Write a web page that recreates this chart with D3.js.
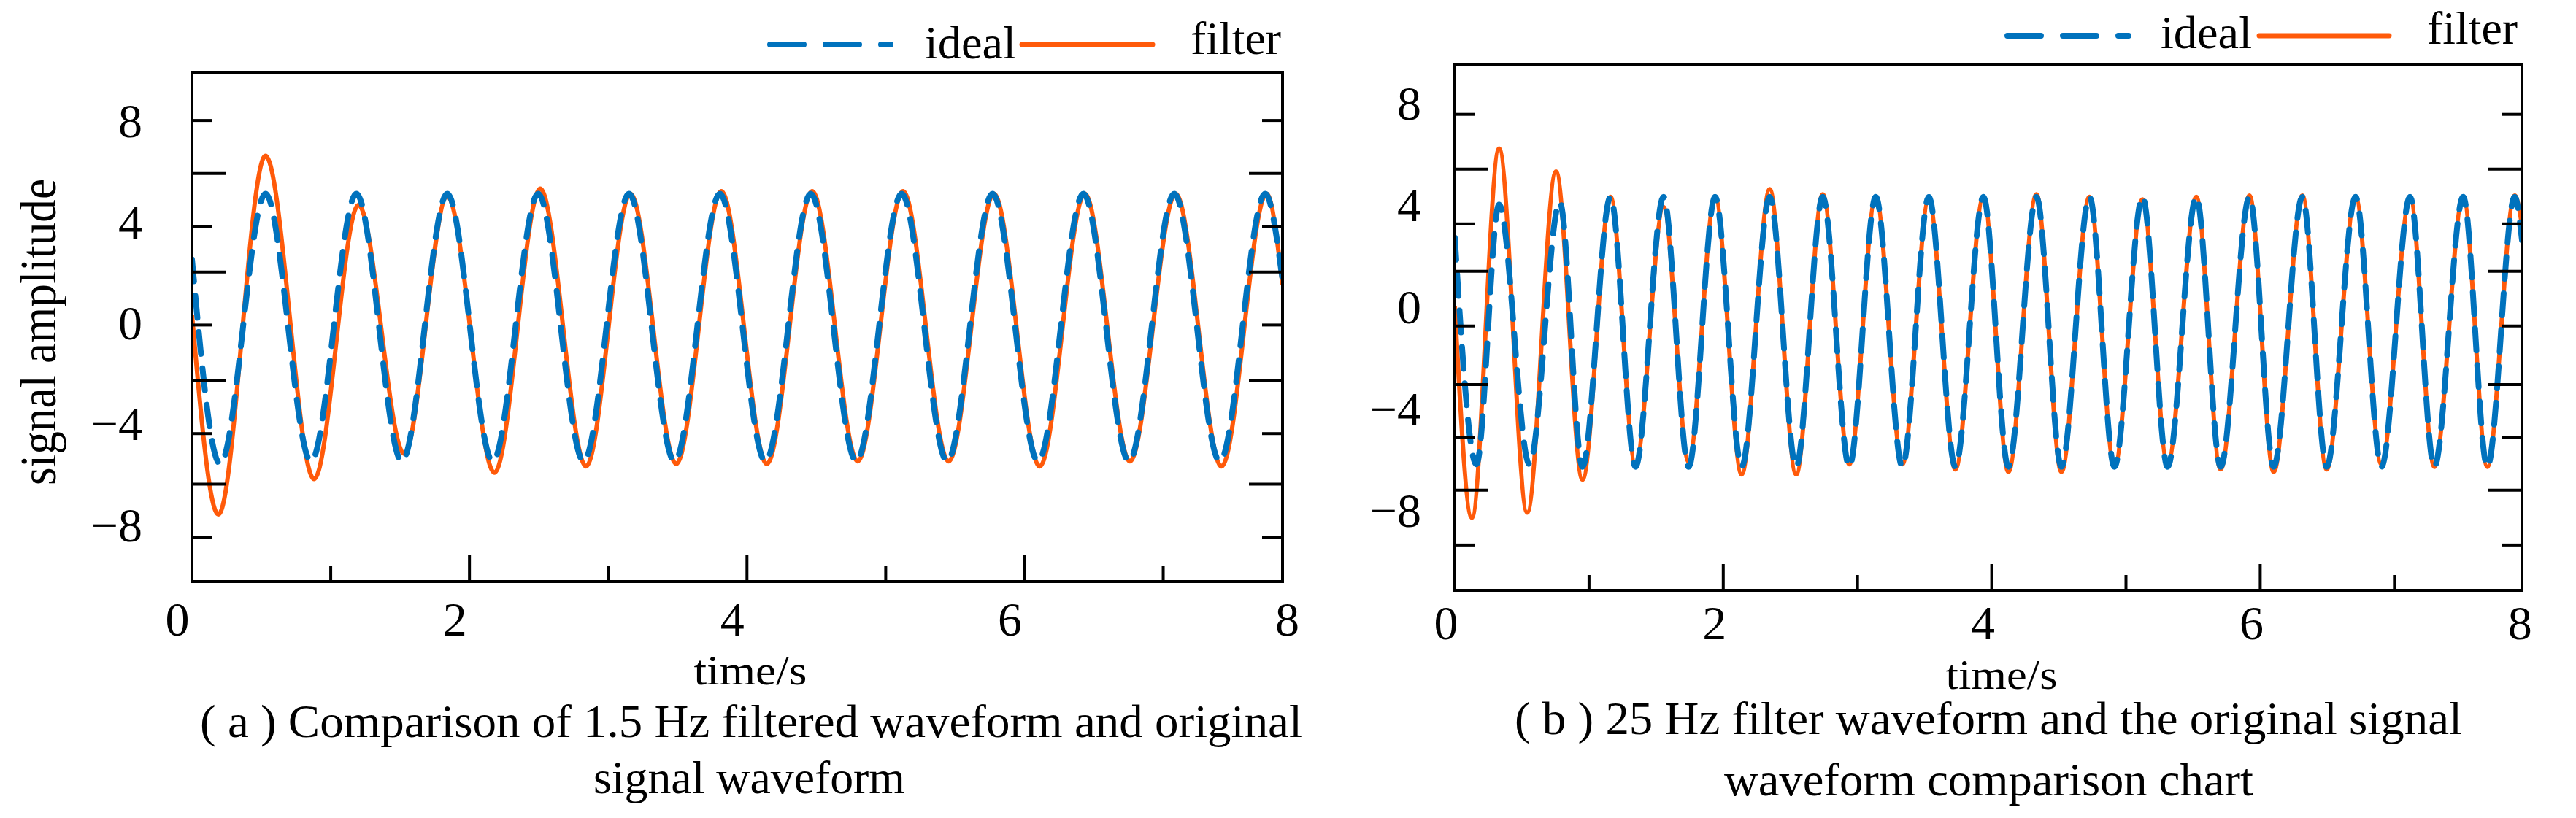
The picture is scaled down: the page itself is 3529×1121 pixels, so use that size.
<!DOCTYPE html>
<html><head><meta charset="utf-8">
<script src="https://cdn.jsdelivr.net/npm/d3@7"></script>
<style>body{margin:0;background:#fff}svg{display:block}text{font-family:"Liberation Serif","DejaVu Serif",serif;fill:#000}</style>
</head><body>
<svg id="c" width="3529" height="1121"></svg>
<script>
// ---- data ----
const xTickLabels = ["0","2","4","6","8"];
const xTickLabelValues = [0,2,4,6,8];
const yTickLabels = ["8","4","0","\u22124","\u22128"];
const yTickLabelValues = [8,4,0,-4,-8];
const xTickMarks = [1,2,3,4,5,6,7];
const seriesNames = ["ideal","filter"];

// panel (a) 1.5 Hz
const aIdealT = [0,0.203,0.530,0.858,1.185,1.513,1.840,2.168,2.495,2.823,3.150,3.478,3.805,4.133,4.460,4.788,5.115,5.443,5.770,6.098,6.425,6.753,7.080,7.408,7.735,7.86];
const aIdealV = [2.5,-5.6,5.1,-5.5,5.1,-5.5,5.1,-5.5,5.1,-5.5,5.1,-5.5,5.1,-5.5,5.1,-5.5,5.1,-5.5,5.1,-5.5,5.1,-5.5,5.1,-5.5,5.1,1.7];
const aFilterT = [0,0.19,0.53,0.88,1.20,1.53,1.84,2.18,2.51,2.84,3.16,3.49,3.815,4.143,4.47,4.798,5.125,5.453,5.78,6.11,6.435,6.76,7.09,7.42,7.745,7.86];
const aFilterV = [0.3,-7.6,6.6,-6.2,4.65,-5.2,5.0,-5.95,5.3,-5.7,5.1,-5.6,5.2,-5.6,5.2,-5.5,5.2,-5.5,5.1,-5.7,5.1,-5.5,5.1,-5.7,5.1,1.5];
const aYTickMarks = [8,5.9,3.8,2.0,-0.1,-2.3,-4.4,-6.4,-8.5];
const aYTickLong  = [0,1,0,1,0,1,0,1,0];

// panel (b) 25 Hz
const bFilterT = [0,0.127,0.330,0.539,0.754,0.951,1.160,1.346,1.555,1.742,1.939,2.137,2.346,2.543,2.741,2.939,3.136,3.334,3.531,3.729,3.938,4.124,4.333,4.519,4.728,4.914,5.123,5.310,5.524,5.705,5.92,6.10,6.314,6.495,6.71,6.903,7.116,7.297,7.512,7.692,7.896,7.95];
const bFilterV = [0,-8.3,6.2,-8.1,5.3,-6.8,4.3,-6.2,3.9,-6.1,4.3,-6.6,4.6,-6.6,4.4,-6.2,4.3,-6.2,4.2,-6.4,4.3,-6.5,4.4,-6.5,4.3,-6.3,4.2,-6.2,4.3,-6.4,4.35,-6.5,4.35,-6.4,4.3,-6.2,4.25,-6.3,4.3,-6.3,4.35,3.2];
const bIdealT = [0,0.161,0.330,0.556,0.782,0.951,1.160,1.346,1.555,1.742,1.939,2.137,2.346,2.543,2.741,2.939,3.136,3.334,3.531,3.729,3.938,4.124,4.333,4.519,4.728,4.914,5.123,5.310,5.524,5.705,5.92,6.10,6.314,6.495,6.71,6.903,7.116,7.297,7.512,7.692,7.896,7.95];
const bIdealV = [2.7,-6.2,4.0,-6.2,4.1,-6.3,4.3,-6.3,4.3,-6.3,4.3,-6.3,4.3,-6.3,4.3,-6.3,4.3,-6.3,4.3,-6.3,4.3,-6.3,4.3,-6.3,4.3,-6.3,4.3,-6.3,4.3,-6.3,4.3,-6.3,4.3,-6.3,4.3,-6.3,4.3,-6.3,4.3,-6.3,4.3,2.6];
const bYTickMarks = [7.54,5.39,3.24,1.38,-0.77,-3.07,-5.16,-7.22,-9.37];
const bYTickLong  = [0,1,0,1,0,1,0,1,0];

const BLUE="#0072BD", ORANGE="#FF5A0A";
const svg=d3.select("#c");

function panel(o){
  const g=svg.append("g");
  const x=d3.scaleLinear().domain([0,o.xmax]).range([o.L,o.R]);
  const y=d3.scaleLinear().domain([o.ymin,o.ymax]).range([o.B,o.T]);
  const id="clip"+o.name;
  svg.append("clipPath").attr("id",id).append("rect").attr("x",o.L).attr("y",o.T).attr("width",o.R-o.L).attr("height",o.B-o.T);
  const line=d3.line().x(d=>x(d[0])).y(d=>y(d[1])).curve(d3.curveMonotoneX);
  const zip=(t,v)=>t.map((tt,i)=>[tt,v[i]]);
  const lg=g.append("g").attr("clip-path","url(#"+id+")");
  lg.append("path").attr("d",line(zip(o.fT,o.fV))).attr("fill","none").attr("stroke",ORANGE).attr("stroke-width",6);
  lg.append("path").attr("d",line(zip(o.iT,o.iV))).attr("fill","none").attr("stroke",BLUE).attr("stroke-width",8)
    .attr("stroke-dasharray","30 20").attr("stroke-linecap","round");
  g.append("rect").attr("x",o.L).attr("y",o.T).attr("width",o.R-o.L).attr("height",o.B-o.T).attr("fill","none").attr("stroke","#000").attr("stroke-width",4);
  o.yTicks.forEach((v,i)=>{
    const len=o.yLong[i]?46:28;
    g.append("line").attr("x1",o.L).attr("x2",o.L+len).attr("y1",y(v)).attr("y2",y(v)).attr("stroke","#000").attr("stroke-width",4);
    g.append("line").attr("x1",o.R).attr("x2",o.R-len).attr("y1",y(v)).attr("y2",y(v)).attr("stroke","#000").attr("stroke-width",4);
  });
  xTickMarks.filter(t=>t<o.xmax).forEach(t=>{
    const len=(t%2===0)?36:21;
    g.append("line").attr("x1",x(t)).attr("x2",x(t)).attr("y1",o.B).attr("y2",o.B-len).attr("stroke","#000").attr("stroke-width",4);
  });
  yTickLabels.forEach((s,i)=>{
    g.append("text").attr("x",o.L-o.ylabOff).attr("y",y(yTickLabelValues[i])).attr("dy","0.35em").attr("text-anchor","end").attr("font-size",66).text(s);
  });
  xTickLabels.forEach((s,i)=>{
    g.append("text").attr("x",x(xTickLabelValues[i])+o.xlabShift).attr("y",o.xlabY).attr("text-anchor","middle").attr("font-size",66).text(s);
  });
  g.append("text").attr("x",o.tx).attr("y",o.ty).attr("text-anchor","middle").attr("font-size",58)
    .attr("textLength",o.tw).attr("lengthAdjust","spacingAndGlyphs").text("time/s");
  o.cap.forEach(c=>{
    g.append("text").attr("x",c.x).attr("y",c.y).attr("font-size",64).attr("textLength",c.w).attr("lengthAdjust","spacingAndGlyphs").text(c.s);
  });
  const ly=o.leg.y;
  g.append("line").attr("x1",o.leg.b0).attr("x2",o.leg.b1).attr("y1",ly).attr("y2",ly).attr("stroke",BLUE).attr("stroke-width",8).attr("stroke-dasharray","46 30").attr("stroke-linecap","round");
  g.append("text").attr("x",o.leg.t0).attr("y",o.leg.ty).attr("font-size",64).attr("textLength",125).attr("lengthAdjust","spacingAndGlyphs").text(seriesNames[0]);
  g.append("line").attr("x1",o.leg.o0).attr("x2",o.leg.o1).attr("y1",ly).attr("y2",ly).attr("stroke",ORANGE).attr("stroke-width",7).attr("stroke-linecap","round");
  g.append("text").attr("x",o.leg.f0).attr("y",o.leg.ty-6).attr("font-size",64).attr("textLength",124).attr("lengthAdjust","spacingAndGlyphs").text(seriesNames[1]);
}

panel({name:"a",L:263,R:1757,T:99,B:797,xmax:7.86,ymin:-10.26,ymax:9.91,
  iT:aIdealT,iV:aIdealV,fT:aFilterT,fV:aFilterV,yTicks:aYTickMarks,yLong:aYTickLong,
  ylabOff:68,xlabShift:-20,xlabY:871,tx:1028,ty:938,tw:155,
  cap:[{s:"( a ) Comparison of 1.5 Hz filtered waveform and original",x:274,y:1010,w:1510},
       {s:"signal waveform",x:813,y:1087,w:427}],
  leg:{y:61,b0:1055,b1:1220,t0:1267,ty:80,o0:1400,o1:1579,f0:1631}});

panel({name:"b",L:1993,R:3455,T:89,B:809,xmax:7.95,ymin:-11.15,ymax:9.48,
  iT:bIdealT,iV:bIdealV,fT:bFilterT,fV:bFilterV,yTicks:bYTickMarks,yLong:bYTickLong,
  ylabOff:46,xlabShift:-12,xlabY:876,tx:2742,ty:944,tw:153,
  cap:[{s:"( b ) 25 Hz filter waveform and the original signal",x:2075,y:1006,w:1298},
       {s:"waveform comparison chart",x:2362,y:1090,w:725}],
  leg:{y:49,b0:2750,b1:2916,t0:2960,ty:66,o0:3095,o1:3273,f0:3325}});

svg.append("text").attr("transform","translate(76,455) rotate(-90)").attr("text-anchor","middle").attr("font-size",70)
  .attr("textLength",420).attr("lengthAdjust","spacingAndGlyphs").text("signal amplitude");
</script>
</body></html>
